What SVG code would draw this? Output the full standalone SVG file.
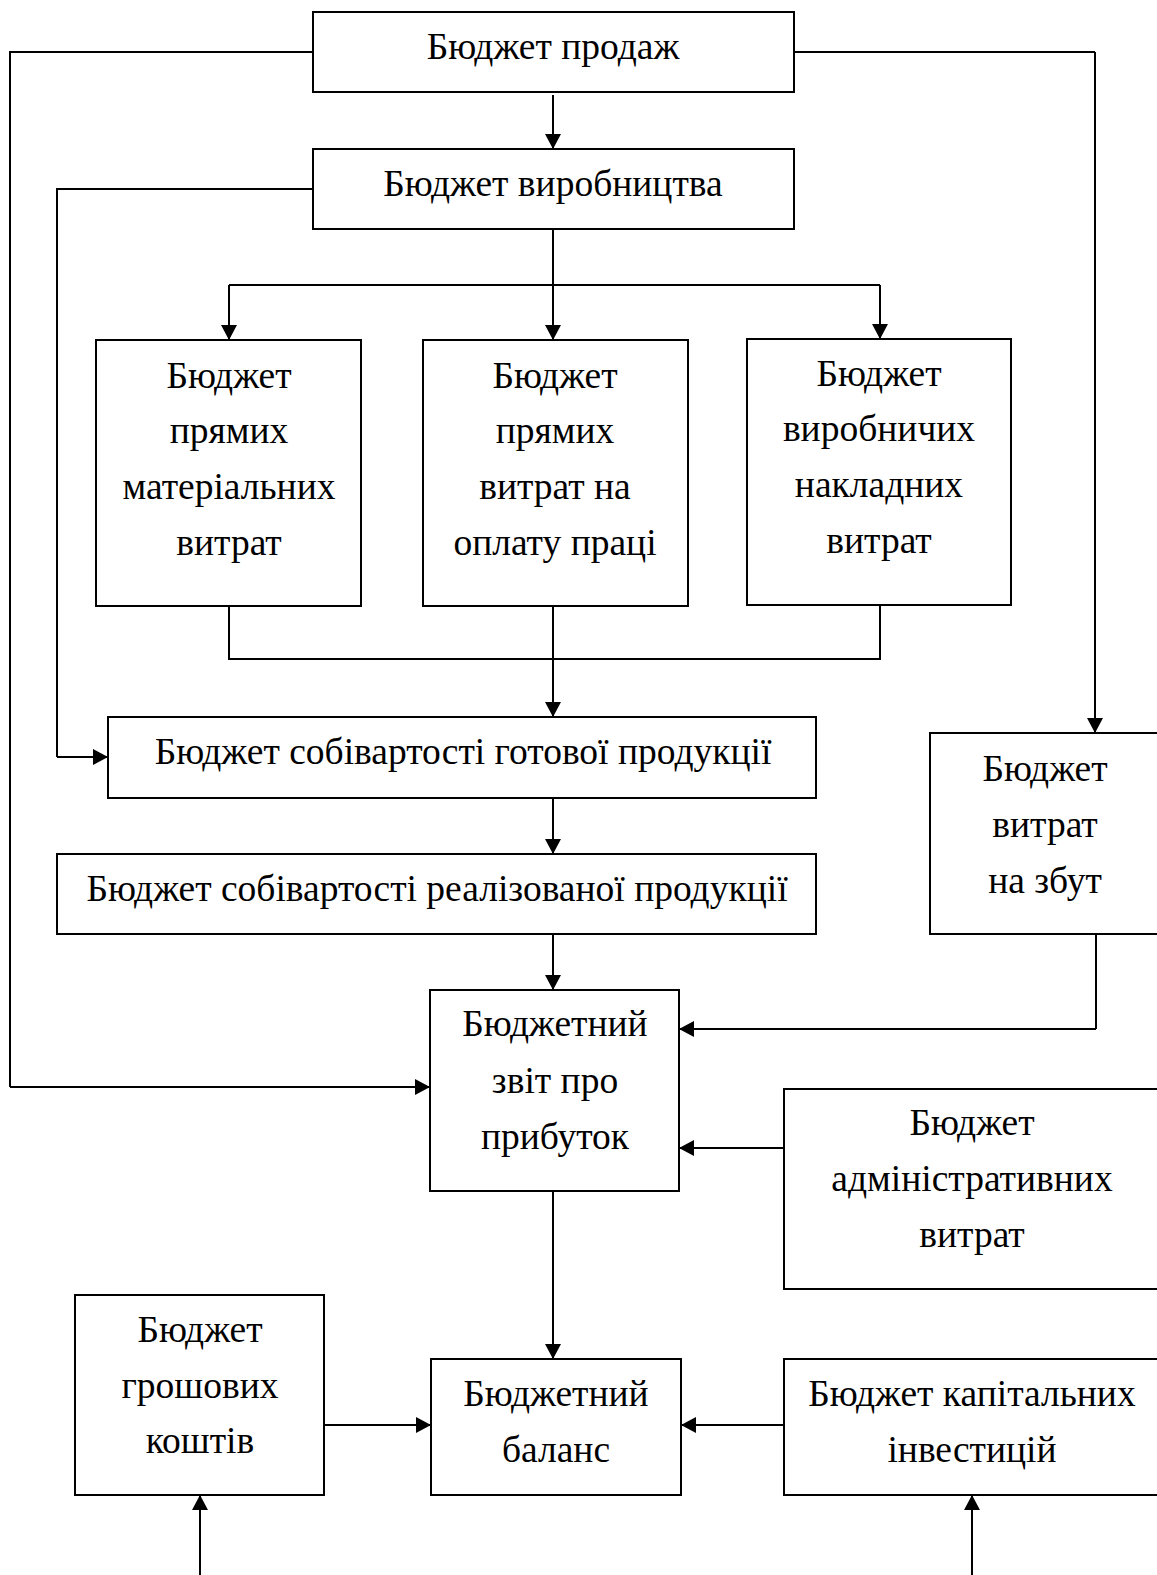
<svg xmlns="http://www.w3.org/2000/svg" width="1157" height="1575" viewBox="0 0 1157 1575">
<defs>
<marker id="ar" markerWidth="15" markerHeight="16" refX="15" refY="8" orient="auto" markerUnits="userSpaceOnUse">
<path d="M0,0 L15,8 L0,16 Z" fill="#000"/>
</marker>
<style>
.b{fill:#fff;stroke:#000;stroke-width:2}
.t{font-family:"Liberation Serif","Times New Roman",serif;font-size:37.5px;fill:#000;text-anchor:middle}
.c{fill:none;stroke:#000;stroke-width:2}
.a{fill:none;stroke:#000;stroke-width:2;marker-end:url(#ar)}
</style>
</defs>
<rect width="1157" height="1575" fill="#fff"/>
<g id="connectors">
<path class="c" d="M313,52 H10 V1087"/>
<path class="a" d="M10,1087 H430"/>
<path class="a" d="M553,95 V149"/>
<path class="c" d="M794,52 H1095"/>
<path class="a" d="M1095,52 V733"/>
<path class="c" d="M313,189 H57 V757"/>
<path class="a" d="M57,757 H108"/>
<path class="c" d="M553,229 V285"/>
<path class="c" d="M229,285 H880"/>
<path class="a" d="M229,285 V340"/>
<path class="a" d="M553,285 V340"/>
<path class="a" d="M880,285 V339"/>
<path class="c" d="M229,606 V659 H880 V605"/>
<path class="a" d="M553,606 V717"/>
<path class="a" d="M553,798 V854"/>
<path class="a" d="M553,934 V990"/>
<path class="c" d="M1096,934 V1029"/>
<path class="a" d="M1096,1029 H679"/>
<path class="a" d="M784,1148 H679"/>
<path class="a" d="M553,1191 V1359"/>
<path class="a" d="M324,1425 H431"/>
<path class="a" d="M784,1425 H681"/>
<path class="a" d="M200,1575 V1495"/>
<path class="a" d="M972,1575 V1495"/>
</g>
<g id="n_sales"><rect class="b" x="313" y="12" width="481" height="80"/><text class="t" x="553" y="59">Бюджет продаж</text></g>
<g id="n_production"><rect class="b" x="313" y="149" width="481" height="80"/><text class="t" x="553" y="196">Бюджет виробництва</text></g>
<g id="n_materials"><rect class="b" x="96" y="340" width="265" height="266"/><text class="t" x="229" y="388">Бюджет</text><text class="t" x="229" y="443">прямих</text><text class="t" x="229" y="499">матеріальних</text><text class="t" x="229" y="555">витрат</text></g>
<g id="n_labor"><rect class="b" x="423" y="340" width="265" height="266"/><text class="t" x="555" y="388">Бюджет</text><text class="t" x="555" y="443">прямих</text><text class="t" x="555" y="499">витрат на</text><text class="t" x="555" y="555">оплату праці</text></g>
<g id="n_overhead"><rect class="b" x="747" y="339" width="264" height="266"/><text class="t" x="879" y="386">Бюджет</text><text class="t" x="879" y="441">виробничих</text><text class="t" x="879" y="497">накладних</text><text class="t" x="879" y="553">витрат</text></g>
<g id="n_cogm"><rect class="b" x="108" y="717" width="708" height="81"/><text class="t" x="463" y="764">Бюджет собівартості готової продукції</text></g>
<g id="n_cogs"><rect class="b" x="57" y="854" width="759" height="80"/><text class="t" x="437" y="901">Бюджет собівартості реалізованої продукції</text></g>
<g id="n_selling"><rect class="b" x="930" y="733" width="240" height="201"/><text class="t" x="1045" y="781">Бюджет</text><text class="t" x="1045" y="837">витрат</text><text class="t" x="1045" y="893">на збут</text></g>
<g id="n_income"><rect class="b" x="430" y="990" width="249" height="201"/><text class="t" x="555" y="1036">Бюджетний</text><text class="t" x="555" y="1093">звіт про</text><text class="t" x="555" y="1149">прибуток</text></g>
<g id="n_admin"><rect class="b" x="784" y="1089" width="400" height="200"/><text class="t" x="972" y="1135">Бюджет</text><text class="t" x="972" y="1191">адміністративних</text><text class="t" x="972" y="1247">витрат</text></g>
<g id="n_cash"><rect class="b" x="75" y="1295" width="249" height="200"/><text class="t" x="200" y="1342">Бюджет</text><text class="t" x="200" y="1398">грошових</text><text class="t" x="200" y="1453">коштів</text></g>
<g id="n_balance"><rect class="b" x="431" y="1359" width="250" height="136"/><text class="t" x="556" y="1406">Бюджетний</text><text class="t" x="556" y="1462">баланс</text></g>
<g id="n_capex"><rect class="b" x="784" y="1359" width="400" height="136"/><text class="t" x="972" y="1406">Бюджет капітальних</text><text class="t" x="972" y="1462">інвестицій</text></g>
</svg>
